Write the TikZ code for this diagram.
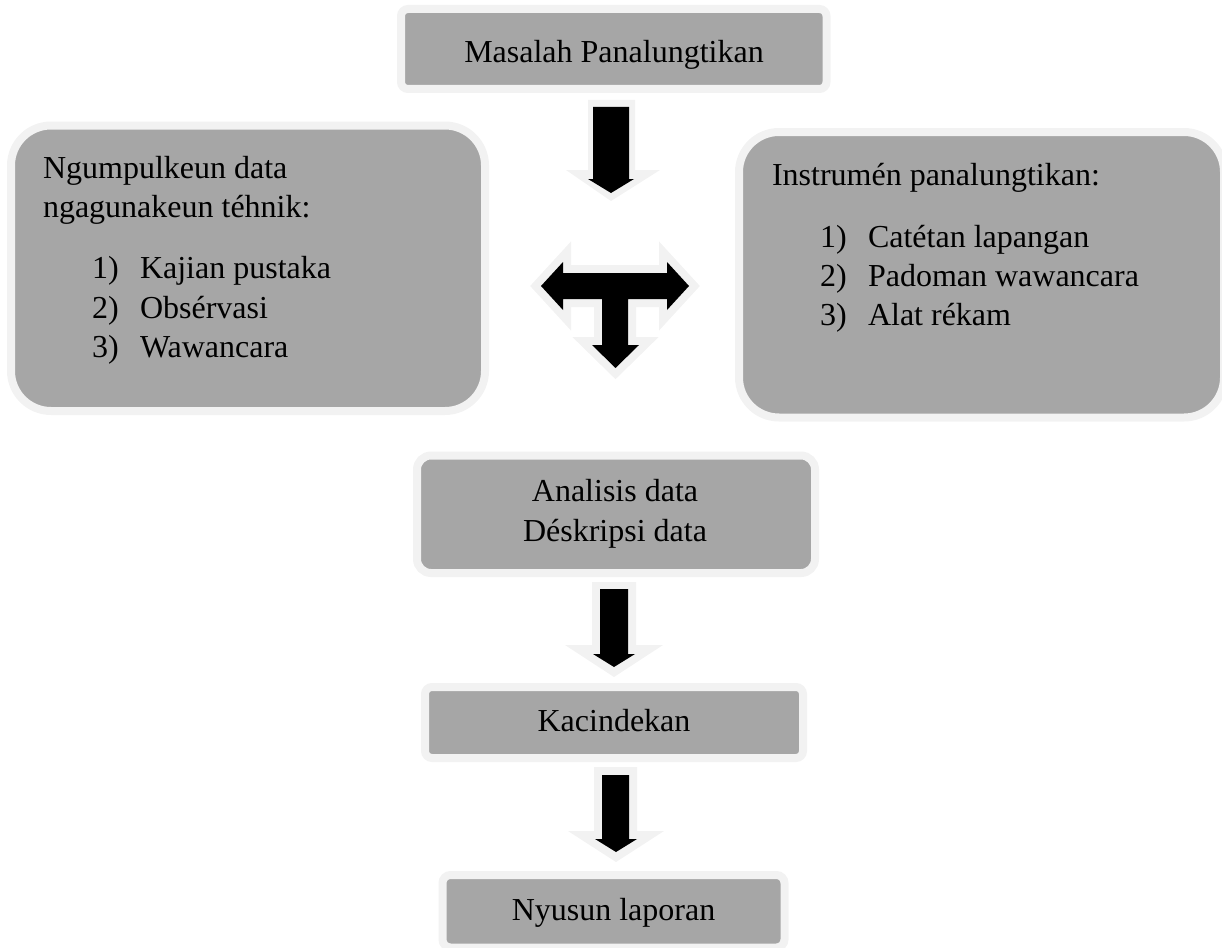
\documentclass[tikz,border=0pt]{standalone}
\usepackage{fontspec}
\setmainfont{Liberation Serif}
\definecolor{boxgray}{HTML}{A6A6A6}
\definecolor{boxlight}{HTML}{F2F2F2}
\tikzset{
  box/.style={fill=boxgray, draw=boxlight, line width=8pt, inner sep=0pt, outer sep=0pt},
  txt/.style={font=\fontsize{32}{40}\selectfont, inner sep=0pt, outer sep=0pt, text=black},
  glow/.style={fill=boxlight},
  blk/.style={fill=black},
  tglow/.style={draw=boxlight, fill=boxlight, line width=16pt, line join=miter}
}
\begin{document}
\begin{tikzpicture}[x=1pt,y=-1pt]
\useasboundingbox (0,0) rectangle (1222,947);

% boxes
\node[box, rounded corners=7pt, minimum width=425.5pt, minimum height=80pt] (top) at (613.75,49) {};
\node[box, rounded corners=40pt, minimum width=474pt, minimum height=285.5pt] (left) at (248,268.25) {};
\node[box, rounded corners=40pt, minimum width=485pt, minimum height=285.5pt] (right) at (981.5,274.75) {};
\node[box, rounded corners=14pt, minimum width=398pt, minimum height=117.5pt] (mid) at (616,514.25) {};
\node[box, rounded corners=7pt, minimum width=378pt, minimum height=71pt] (kac) at (614,722.5) {};
\node[box, rounded corners=8pt, minimum width=342pt, minimum height=72.5pt] (nyu) at (613.5,911.25) {};

% texts
\node[txt, anchor=base] (ttop) at (614,63) {Masalah Panalungtikan};

\node[txt, anchor=base west] (l1) at (43,178) {Ngumpulkeun data};
\node[txt, anchor=base west] (l2) at (43,217) {ngagunakeun téhnik:};
\node[txt, anchor=base west] (ln1) at (92,278) {1)};
\node[txt, anchor=base west] (li1) at (140,278) {Kajian pustaka};
\node[txt, anchor=base west] (ln2) at (92,318) {2)};
\node[txt, anchor=base west] (li2) at (140,318) {Obsérvasi};
\node[txt, anchor=base west] (ln3) at (92,357) {3)};
\node[txt, anchor=base west] (li3) at (140,357) {Wawancara};

\node[txt, anchor=base west] (r1) at (772,185) {Instrumén panalungtikan:};
\node[txt, anchor=base west] (rn1) at (820,247) {1)};
\node[txt, anchor=base west] (ri1) at (868,247) {Catétan lapangan};
\node[txt, anchor=base west] (rn2) at (820,286) {2)};
\node[txt, anchor=base west] (ri2) at (868,286) {Padoman wawancara};
\node[txt, anchor=base west] (rn3) at (820,325) {3)};
\node[txt, anchor=base west] (ri3) at (868,325) {Alat rékam};

\node[txt, anchor=base] (m1) at (615,501) {Analisis data};
\node[txt, anchor=base] (m2) at (615,541) {Déskripsi data};

\node[txt, anchor=base] (tkac) at (614,731) {Kacindekan};
\node[txt, anchor=base] (tnyu) at (613.5,920) {Nyusun laporan};

% arrow 1 (top -> split)
\fill[glow] (588,100) -- (635,100) -- (635,170) -- (660,170) -- (611,201) -- (566,170) -- (588,170) -- cycle;
\fill[blk] (593,107) -- (629,107) -- (629,179) -- (634,179) -- (611,193) -- (588,179) -- (593,179) -- cycle;

% T-shaped arrow
\path[tglow] (541,286) -- (563,262) -- (563,273) -- (667,273) -- (667,262) -- (689,286) -- (667,310) -- (667,299) -- (628,299) -- (628,345) -- (639,345) -- (615.5,368) -- (592,345) -- (602,345) -- (602,299) -- (563,299) -- (563,310) -- cycle;
\fill[blk] (541,286) -- (563,262) -- (563,273) -- (667,273) -- (667,262) -- (689,286) -- (667,310) -- (667,299) -- (628,299) -- (628,345) -- (639,345) -- (615.5,368) -- (592,345) -- (602,345) -- (602,299) -- (563,299) -- (563,310) -- cycle;

% arrow 2 (mid -> kac)
\fill[glow] (592,582) -- (636,582) -- (636,645) -- (663,645) -- (614,677) -- (565,645) -- (592,645) -- cycle;
\fill[blk] (600,589) -- (628,589) -- (628,654) -- (635,654) -- (614,667) -- (593,654) -- (600,654) -- cycle;

% arrow 3 (kac -> nyu)
\fill[glow] (594,767) -- (637,767) -- (637,831) -- (664,831) -- (616,862) -- (568,831) -- (594,831) -- cycle;
\fill[blk] (602,775) -- (629,775) -- (629,839) -- (637,839) -- (616,852) -- (595,839) -- (602,839) -- cycle;
\end{tikzpicture}
\end{document}
